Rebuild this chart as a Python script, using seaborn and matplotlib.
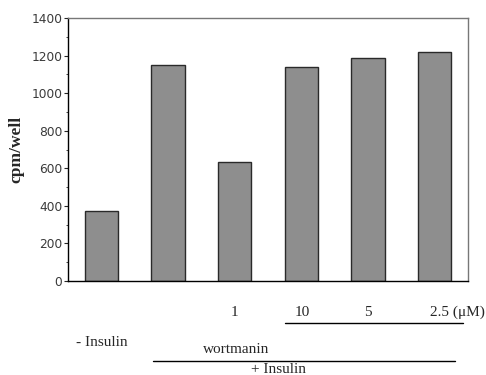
import matplotlib
matplotlib.use('Agg')
from matplotlib import pyplot as plt
from matplotlib.lines import Line2D
from matplotlib.ticker import MultipleLocator
import matplotlib.transforms as mtransforms
import seaborn as sns
import pandas as pd

groups = ['ctrl', 'ins', 'w1', 'w10', 'w5', 'w2.5']
cpm = [372, 1150, 632, 1141, 1187, 1220]
doses = ['1', '10', '5', '2.5 (\u03bcM)']

sns.set_style('white')
plt.rcParams['font.family'] = ['Liberation Serif', 'DejaVu Serif']

df = pd.DataFrame({'group': groups, 'cpm': cpm})

fig = plt.figure(figsize=(4.86, 3.75), dpi=100)
ax = fig.add_axes([68 / 486, 94 / 375, 400 / 486, 263 / 375])
sns.barplot(data=df, x='group', y='cpm', color='#8e8e8e', saturation=1,
            width=0.5, edgecolor='#2a2a2a', linewidth=1.0, ax=ax)

ax.set_xlim(-0.5, 5.5)
ax.set_ylim(0, 1400)
ax.yaxis.set_major_locator(MultipleLocator(200))
ax.yaxis.set_minor_locator(MultipleLocator(100))
ax.set_xticks([])
ax.set_xlabel('')
ax.set_ylabel('cpm/well', fontsize=12.5, fontweight='bold', labelpad=5)
ax.tick_params(axis='y', which='major', left=True, length=3, width=0.8,
               pad=1, labelsize=8.8, labelcolor='#3a3a3a')
ax.tick_params(axis='y', which='minor', left=True, length=1.5, width=0.6)
for lab in ax.get_yticklabels():
    lab.set_family('DejaVu Sans')

for side in ['left', 'bottom']:
    ax.spines[side].set_color('black')
    ax.spines[side].set_linewidth(1.0)
for side in ['top', 'right']:
    ax.spines[side].set_color('#777777')
    ax.spines[side].set_linewidth(1.0)

trans = mtransforms.blended_transform_factory(ax.transData, fig.transFigure)
fs = 11
for x, d in zip([2.0, 3.02, 4.0], doses[:3]):
    ax.text(x, 0.168, d, transform=trans, ha='center', va='center', fontsize=fs)
ax.text(4.93, 0.168, doses[3], transform=trans, ha='left', va='center', fontsize=fs)
ax.text(0.0, 0.088, '- Insulin', transform=trans, ha='center', va='center', fontsize=fs)
ax.text(2.02, 0.069, 'wortmanin', transform=trans, ha='center', va='center', fontsize=fs)
ax.text(2.66, 0.014, '+ Insulin', transform=trans, ha='center', va='center', fontsize=fs)

for x0, x1, y in [(2.755, 5.425, 0.139), (0.775, 5.305, 0.037)]:
    ax.add_line(Line2D([x0, x1], [y, y], transform=trans, color='black',
                       linewidth=1.0, clip_on=False))

fig.savefig('out.png', dpi=100)
